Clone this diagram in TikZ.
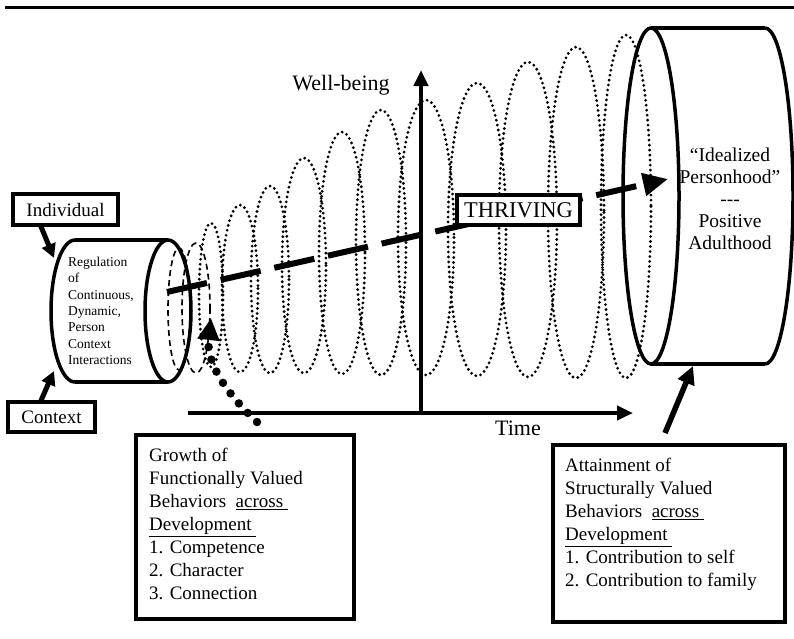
\documentclass[tikz,border=0pt]{standalone}
\usepackage{fontspec}
\setmainfont{Liberation Serif}
\usetikzlibrary{arrows.meta,calc}
\begin{document}
\begin{tikzpicture}[x=1pt,y=-1pt,
  dotloop/.style={line width=3.1pt, dash pattern=on 0pt off 5pt, line cap=round},
  dashloop/.style={line width=1.6pt, dash pattern=on 6pt off 4pt},
  cyl/.style={line width=3.5pt},
  box/.style={draw, line width=3.5pt, fill=white, inner sep=0pt},
  boxtext/.style={anchor=north west, inner sep=0pt, align=left, font=\fontsize{19}{23}\selectfont},
  axisarrow/.style={line width=4pt, -{Triangle[length=16pt,width=14pt]}},
  thickarrow/.style={line width=5pt, -{Triangle[length=14pt,width=14pt]}},
  axislabel/.style={inner sep=0pt, font=\fontsize{22}{26}\selectfont}]
\fill[white] (0,0) rectangle (794,638);
\useasboundingbox (0,0) rectangle (794,638);
% top rule
\draw[line width=3pt] (5,7) -- (794,7);
% spiral loops
\foreach \cx/\tp/\bt/\rx in {211/223/367/12, 240/205/372/18, 270/186/373/19, 304/158/373/22, 342/132/374/23, 381/110/375/25, 426/100/375/28, 477/83/376/29, 528/62/377/29, 576/47/378/28, 626/35/378/25}
  {\draw[dotloop] (\cx,{(\tp+\bt)/2}) ellipse [x radius=\rx, y radius={(\bt-\tp)/2}];}
\draw[dashloop] (179,309) ellipse [x radius=11, y radius=61];
\draw[dashloop] (196,308) ellipse [x radius=14, y radius=65];
% left cylinder
\draw[cyl] (75,240) -- (168,240);
\draw[cyl] (75,382) -- (168,382);
\draw[cyl] (75,240) arc[start angle=270, end angle=90, x radius=24, y radius=71];
\draw[cyl] (168,311) ellipse [x radius=23, y radius=71];
\node[inner sep=0pt, anchor=north west, align=left, font=\fontsize{13.5}{16.3}\selectfont] (regtext) at (68,257)
  {Regulation\\of\\Continuous,\\Dynamic,\\Person\\Context\\Interactions};
% right cylinder
\draw[cyl] (651,28) -- (765,28);
\draw[cyl] (651,364) -- (765,364);
\draw[cyl] (765,28) arc[start angle=-90, end angle=90, x radius=28, y radius=168];
\draw[cyl] (651,196) ellipse [x radius=28, y radius=168];
\node[inner sep=0pt, anchor=north, align=center, font=\fontsize{19.5}{22}\selectfont] (idealtext) at (730,148)
  {“Idealized\\Personhood”\\-{}-{}-\\Positive\\Adulthood};
% axes
\coordinate (origin) at (421,413);
\coordinate (ytop) at (421,70);
\coordinate (xstart) at (188,413);
\coordinate (xend) at (633,413);
\draw[axisarrow] (origin) -- (ytop);
\draw[axisarrow] (xstart) -- (xend);
\node[axislabel] (wb) at (341,85) {Well-being};
\node[axislabel] (time) at (518,428) {Time};
% thriving line
\coordinate (thrstart) at (167,292);
\coordinate (thrend) at (668,179);
\draw[line width=6pt, dash pattern=on 41pt off 14pt, -{Triangle[length=25pt,width=22pt]}] (thrstart) -- (thrend);
\node[box, minimum width=123pt, minimum height=30pt, font=\fontsize{22.5}{27}\selectfont] (thriving) at (518.5,210) {THRIVING};
% individual / context
\node[box, minimum width=105pt, minimum height=31pt, font=\fontsize{19}{23}\selectfont] (indiv) at (65.5,209.5) {Individual};
\node[box, minimum width=87pt, minimum height=30pt, font=\fontsize{19}{23}\selectfont] (context) at (51.5,417) {Context};
\coordinate (indivtip) at (54,258);
\coordinate (contexttip) at (54,371);
\draw[thickarrow] ($(indiv.south west)+(29,-2)$) -- (indivtip);
\draw[thickarrow] ($(context.north west)+(34,2)$) -- (contexttip);
% growth box
\node[box, anchor=north west, minimum width=218pt, minimum height=184pt] (growth) at (134,433) {};
\node[boxtext] (growthtext) at ($(growth.north west)+(15,15)$)
  {Growth of\\Functionally Valued\\Behaviors\ \ \underline{across\ }\\\underline{Development\ }\\1. Competence\\2. Character\\3. Connection};
\coordinate (growthtip) at (211,318);
\draw[line width=8.5pt, dash pattern=on 0pt off 13pt, line cap=round, -{Triangle[length=22pt,width=21pt]}]
  ($(growth.north west)+(123,-11)$) .. controls (225,392) and (206,362) .. (growthtip);
% attainment box
\node[box, anchor=north west, minimum width=232pt, minimum height=177pt] (attain) at (551,443) {};
\node[boxtext] (attaintext) at ($(attain.north west)+(14,15)$)
  {Attainment of\\Structurally Valued\\Behaviors\ \ \underline{across\ }\\\underline{Development\ }\\1. Contribution to self\\2. Contribution to family};
\coordinate (attaintip) at (693,366);
\draw[line width=5.5pt, -{Triangle[length=18pt,width=17pt]}] ($(attain.north west)+(114,-10)$) -- (attaintip);
\end{tikzpicture}
\end{document}
